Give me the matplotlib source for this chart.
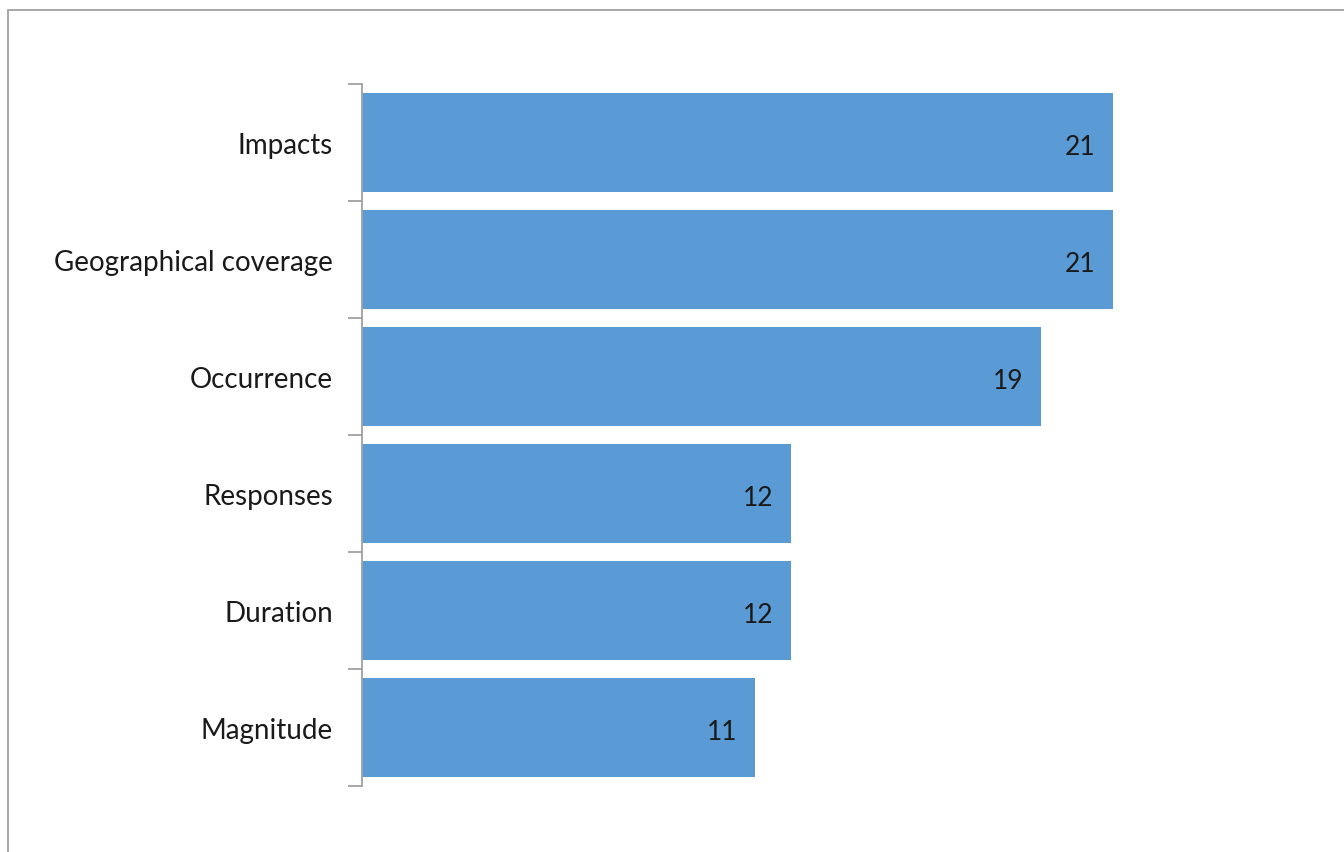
import matplotlib.pyplot as plt
import matplotlib.patches as mpatches
import numpy as np

categories = ["Impacts", "Geographical coverage", "Occurrence", "Responses", "Duration", "Magnitude"]
values = [21, 21, 19, 12, 12, 11]

plt.rcParams['font.family'] = ['Lato', 'DejaVu Sans']

fig = plt.figure(figsize=(13.44, 8.53), dpi=100)
W, H = 1344, 853
# chart border (runs off right and bottom edges)
fig.patches.append(mpatches.Rectangle((8 / W, -0.1), 1.2, 1 - 10.5 / H + 0.1, transform=fig.transFigure,
                                      fill=False, edgecolor="#A0A0A0", linewidth=1.3))

ax = fig.add_axes([362 / W, 1 - 787 / H, 26 * 35.76 / W, (787 - 85) / H])
pos = np.arange(len(categories))[::-1]
ax.barh(pos, values, height=0.84, color="#5B9BD5")
for p, v in zip(pos, values):
    ax.text(v - 0.5, p - 0.035, str(v), ha="right", va="center", fontsize=19, color="#1a1a1a")

ax.set_xlim(0, 26)
ax.set_ylim(-0.5, len(categories) - 0.5)
ax.set_xticks([])
ax.set_yticks(np.arange(-0.5, len(categories), 1.0))
ax.set_yticklabels([])
ax.tick_params(axis="y", which="major", length=10, width=1.3, color="#A0A0A0", direction="out")
ax.set_yticks(pos, minor=True)
ax.set_yticklabels(categories, minor=True, fontsize=20, color="#1a1a1a")
ax.tick_params(axis="y", which="minor", length=0, pad=21)
for s in ["top", "right", "bottom"]:
    ax.spines[s].set_visible(False)
ax.spines["left"].set_color("#A0A0A0")
ax.spines["left"].set_linewidth(1.3)

fig.savefig("out.png", dpi=100)
